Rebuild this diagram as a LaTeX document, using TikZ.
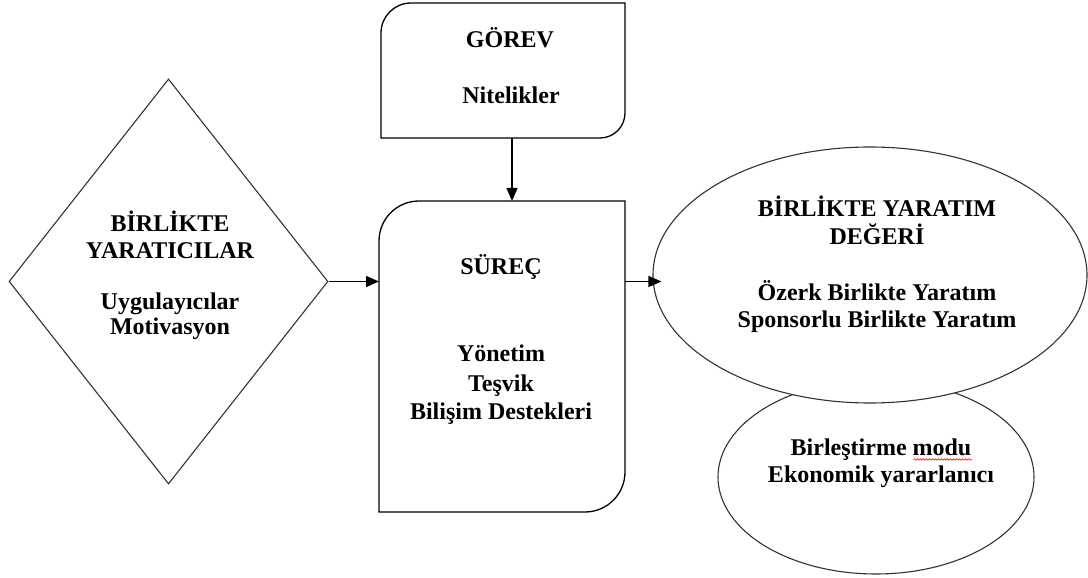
\documentclass[tikz,border=0pt]{standalone}
\usepackage{fontspec}
\setmainfont{Liberation Serif}
\usetikzlibrary{shapes.geometric,arrows.meta,decorations.pathmorphing}
\begin{document}
\begin{tikzpicture}[x=1pt,y=1pt,
  outline/.style={draw=black!80, line width=1.1pt, fill=white, inner sep=0pt},
  frame/.style={draw=black, line width=1.3pt},
  slot/.style={rectangle, inner sep=0pt, outer sep=0pt},
  arr/.style={draw=black, line width=1.3pt, -{Triangle[length=13pt,width=11pt]}},
  lbl/.style={inner sep=0pt, anchor=base, font=\bfseries\fontsize{24}{28}\selectfont}]
\fill[white] (0,0) rectangle (1088,578);
\useasboundingbox (0,0) rectangle (1088,578);

% value ellipses: the lower one sits partly behind the upper one
\node[outline, ellipse, minimum width=316pt, minimum height=194pt] (mode) at (876,101) {};
\node[outline, ellipse, minimum width=434pt, minimum height=256pt] (value) at (870,303) {};

% co-creators diamond
\node[outline, diamond, minimum width=319pt, minimum height=405pt] (cocreators) at (168.5,296.5) {};

% task and process boxes (two rounded corners each)
\node[slot, minimum width=244pt, minimum height=135pt] (task) at (503,507.5) {};
\node[slot, minimum width=246pt, minimum height=311pt] (process) at (502,221.5) {};

\draw[frame] (task.south west) -- ([yshift=-30pt]task.north west)
  arc[start angle=180,end angle=90,radius=30pt] -- (task.north east)
  -- ([yshift=25pt]task.south east)
  arc[start angle=0,end angle=-90,radius=25pt] -- cycle;
\draw[frame] (process.south west) -- ([yshift=-40pt]process.north west)
  arc[start angle=180,end angle=90,radius=40pt] -- (process.north east)
  -- ([yshift=40pt]process.south east)
  arc[start angle=0,end angle=-90,radius=40pt] -- cycle;

% connectors
\draw[arr] ([xshift=9pt]task.south) -- ([xshift=9pt]task.south |- process.north);
\draw[arr] (cocreators.east) -- (cocreators.east -| process.west);
\draw[arr, shorten >=-9pt] (process.east |- cocreators.east) -- (value.west |- cocreators.east);

% labels
\node[lbl] (t1) at (510,530) {GÖREV};
\node[lbl] (t2) at (511,474) {Nitelikler};

\node[lbl] (p1) at (501,303) {SÜREÇ};
\node[lbl] (p2) at (501,216) {Yönetim};
\node[lbl] (p3) at (501,186.5) {Teşvik};
\node[lbl] (p4) at (501,158) {Bilişim Destekleri};

\node[lbl] (c1) at (170,346) {BİRLİKTE};
\node[lbl] (c2) at (170,319.5) {YARATICILAR};
\node[lbl] (c3) at (170,268) {Uygulayıcılar};
\node[lbl] (c4) at (170,243) {Motivasyon};

\node[lbl] (v1) at (877,361) {BİRLİKTE YARATIM};
\node[lbl] (v2) at (877,333) {DEĞERİ};
\node[lbl] (v3) at (877,277) {Özerk Birlikte Yaratım};
\node[lbl] (v4) at (877,250) {Sponsorlu Birlikte Yaratım};

\node[lbl] (m1) at (881,122) {Birleştirme modu};
\node[lbl] (m2) at (881,95) {Ekonomik yararlanıcı};

% spelling mark under "modu"
\draw[red, line width=0.6pt, decorate, decoration={snake, amplitude=0.8pt, segment length=3pt}]
  ([xshift=-58pt,yshift=-3.5pt]m1.base east) -- ([yshift=-3.5pt]m1.base east);
\end{tikzpicture}
\end{document}
